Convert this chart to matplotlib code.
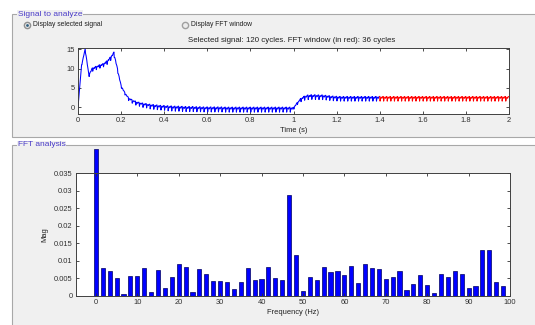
import matplotlib
matplotlib.use("Agg")
import matplotlib.pyplot as plt
from matplotlib.patches import Rectangle
from matplotlib.lines import Line2D
import numpy as np

# signal: upper level and ripple depth at each of the 120 cycles (60 Hz)
cycle_level = [
    0.0, 11.0, 15.2, 8.6, 10.2, 10.6, 11.0, 11.3, 12.0, 13.0,
    14.3, 10.0, 5.7, 3.9, 2.6, 2.0, 1.6, 1.3, 1.1, 0.95,
    0.8, 0.7, 0.6, 0.5, 0.45, 0.4, 0.35, 0.3, 0.3, 0.25,
    0.2, 0.2, 0.2, 0.15, 0.15, 0.1, 0.1, 0.1, 0.1, 0.1,
    0.1, 0.05, 0.05, 0.05, 0.05, 0.05, 0.05, 0.05, 0.05, 0.05,
    0.05, 0.05, 0.05, 0.05, 0.05, 0.05, 0.05, 0.05, 0.05, 0.05,
    0.0, 1.2, 2.3, 2.9, 3.2, 3.25, 3.25, 3.2, 3.2, 3.1,
    3.0, 2.9, 2.85, 2.8, 2.8, 2.8, 2.8, 2.8, 2.8, 2.8,
    2.8, 2.8, 2.8, 2.8, 2.8, 2.8, 2.8, 2.8, 2.8, 2.8,
    2.8, 2.8, 2.8, 2.8, 2.8, 2.8, 2.8, 2.8, 2.8, 2.8,
    2.8, 2.8, 2.8, 2.8, 2.8, 2.8, 2.8, 2.8, 2.8, 2.8,
    2.8, 2.8, 2.8, 2.8, 2.8, 2.8, 2.8, 2.8, 2.8, 2.8,
    2.8,
]
cycle_depth = [
    0.0, 0.4, 0.6, 0.8, 0.9, 0.9, 0.9, 0.9, 1.0, 1.0,
    1.0, 0.8, 0.6, 0.6, 0.8, 0.9, 1.0, 1.0, 1.1, 1.1,
    1.2, 1.2, 1.2, 1.2, 1.2, 1.3, 1.3, 1.3, 1.3, 1.3,
    1.3, 1.3, 1.3, 1.3, 1.3, 1.3, 1.3, 1.3, 1.3, 1.3,
    1.3, 1.3, 1.3, 1.3, 1.3, 1.3, 1.3, 1.3, 1.3, 1.3,
    1.3, 1.3, 1.3, 1.3, 1.3, 1.3, 1.3, 1.3, 1.3, 1.3,
    0.6, 0.6, 0.9, 1.1, 1.2, 1.2, 1.2, 1.2, 1.2, 1.2,
    1.2, 1.2, 1.2, 1.2, 1.2, 1.2, 1.2, 1.2, 1.2, 1.2,
    1.2, 1.2, 1.2, 1.2, 1.2, 1.2, 1.2, 1.2, 1.2, 1.2,
    1.2, 1.2, 1.2, 1.2, 1.2, 1.2, 1.2, 1.2, 1.2, 1.2,
    1.2, 1.2, 1.2, 1.2, 1.2, 1.2, 1.2, 1.2, 1.2, 1.2,
    1.2, 1.2, 1.2, 1.2, 1.2, 1.2, 1.2, 1.2, 1.2, 1.2,
]
f0 = 60.0
fft_start_cycle = 84     # last 36 cycles are the FFT window

# FFT magnitudes, bins every 1/0.6 s = 1.667 Hz
fft_mag = [
    0.0419, 0.0078, 0.0070, 0.0050, 0.0006, 0.0057, 0.0057, 0.0078, 0.0010, 0.0073,
    0.0022, 0.0054, 0.0090, 0.0083, 0.0010, 0.0075, 0.0061, 0.0041, 0.0041, 0.0039,
    0.0019, 0.0039, 0.0078, 0.0045, 0.0048, 0.0083, 0.0052, 0.0045, 0.0288, 0.0115,
    0.0013, 0.0053, 0.0045, 0.0081, 0.0069, 0.0071, 0.0058, 0.0085, 0.0035, 0.0091,
    0.0079, 0.0075, 0.0047, 0.0054, 0.0072, 0.0017, 0.0033, 0.0060, 0.0030, 0.0008,
    0.0063, 0.0053, 0.0072, 0.0063, 0.0022, 0.0027, 0.0132, 0.0132, 0.0038, 0.0029,
]
df = 1 / 0.6

# shape of one ripple cycle: (fraction of period, fraction of depth below the level)
ripple_shape = [(0.0, 0.0), (0.1, 1.0), (0.25, 0.35), (0.45, 0.15), (0.6, 0.4), (0.8, 0.05)]

W, H = 535, 325
fig = plt.figure(figsize=(W / 100, H / 100), dpi=100, facecolor="white")
plt.rcParams["font.family"] = ["Liberation Sans", "DejaVu Sans"]
fs = 5.4
txt_col = "#202020"


def fx(x):
    return x / W


def fy(y):
    return 1 - y / H


def panel(x0, y0, x1, y1, title):
    fig.add_artist(Rectangle((fx(x0), fy(y1)), fx(x1) - fx(x0), fy(y0) - fy(y1),
                             transform=fig.transFigure, facecolor="#f0f0f0",
                             edgecolor="#a8a8a8", linewidth=0.8, zorder=0))
    fig.text(fx(x0 + 6), fy(y0), title, fontsize=6.0, color="#4a3cc8",
             va="center", ha="left",
             bbox=dict(facecolor="#f0f0f0", edgecolor="none", pad=0.5))


panel(12, 14, 545, 137, "Signal to analyze")
panel(12, 145, 545, 335, "FFT analysis")

# radio buttons
fig.add_artist(Line2D([fx(27)], [fy(25)], marker="o", markersize=4.5, color="#909090",
                      markerfacecolor="#e8e8e8", transform=fig.transFigure))
fig.add_artist(Line2D([fx(27)], [fy(25)], marker="o", markersize=2.0, color="#2f5f7f",
                      markeredgewidth=0, transform=fig.transFigure))
fig.text(fx(33), fy(25), "Display selected signal", fontsize=4.9, color=txt_col, va="center")
fig.add_artist(Line2D([fx(185)], [fy(25)], marker="o", markersize=4.5, color="#a0a0a0",
                      markerfacecolor="#ececec", transform=fig.transFigure))
fig.text(fx(191), fy(25), "Display FFT window", fontsize=4.9, color=txt_col, va="center")

fig.text(fx(292), fy(40), "Selected signal: 120 cycles. FFT window (in red): 36 cycles",
         fontsize=5.7, color=txt_col, ha="center", va="center")


def style(ax):
    ax.set_facecolor("white")
    ax.tick_params(direction="in", length=2.5, width=0.6, top=True, right=True,
                   labelsize=fs, labelcolor="#303030", colors="#303030", pad=2.5)
    for s in ax.spines.values():
        s.set_color("#404040")
        s.set_linewidth(0.7)


# --- signal axes ---
ax1 = fig.add_axes([fx(78), fy(114), fx(509) - fx(78), fy(48) - fy(114)])
T = 1 / f0
ts, vs = [], []
for i, d in enumerate(cycle_depth):
    lv0, lv1 = cycle_level[i], cycle_level[i + 1]
    for frac, dep in ripple_shape:
        ts.append((i + frac) * T)
        vs.append(lv0 + frac * (lv1 - lv0) - dep * d)
ts.append(len(cycle_depth) * T)
vs.append(cycle_level[-1])
ts = np.array(ts)
vs = np.array(vs)
k = len(ripple_shape) * fft_start_cycle
ax1.plot(ts[:k + 1], vs[:k + 1], color="blue", lw=0.75)
ax1.plot(ts[k:], vs[k:], color="red", lw=0.75)
ax1.set_xlim(0, 2)
ax1.set_ylim(-1.73, 15.34)
ax1.set_xticks(np.arange(0, 2.01, 0.2))
ax1.set_xticklabels(["0", "0.2", "0.4", "0.6", "0.8", "1", "1.2", "1.4", "1.6", "1.8", "2"])
ax1.set_yticks([0, 5, 10, 15])
style(ax1)
ax1.set_xlabel("Time (s)", fontsize=fs, color=txt_col, labelpad=2)

# --- FFT axes ---
ax2 = fig.add_axes([fx(76), fy(295.7), fx(510) - fx(76), fy(173.3) - fy(295.7)])
freqs = np.arange(len(fft_mag)) * df
ax2.bar(freqs, fft_mag, width=1.0, color="blue", edgecolor="#000060",
        linewidth=0.5, clip_on=False)
ax2.set_xlim(-4.8, 100)
ax2.set_ylim(0, 0.035)
ax2.set_xticks(np.arange(0, 101, 10))
ax2.set_yticks(np.arange(0, 0.0351, 0.005))
ax2.set_yticklabels(["0", "0.005", "0.01", "0.015", "0.02", "0.025", "0.03", "0.035"])
style(ax2)
ax2.set_xlabel("Frequency (Hz)", fontsize=fs, color=txt_col, labelpad=2)
ax2.set_ylabel("Mag", fontsize=fs, color=txt_col, labelpad=4)

fig.savefig("out.png", dpi=100, facecolor=fig.get_facecolor())
